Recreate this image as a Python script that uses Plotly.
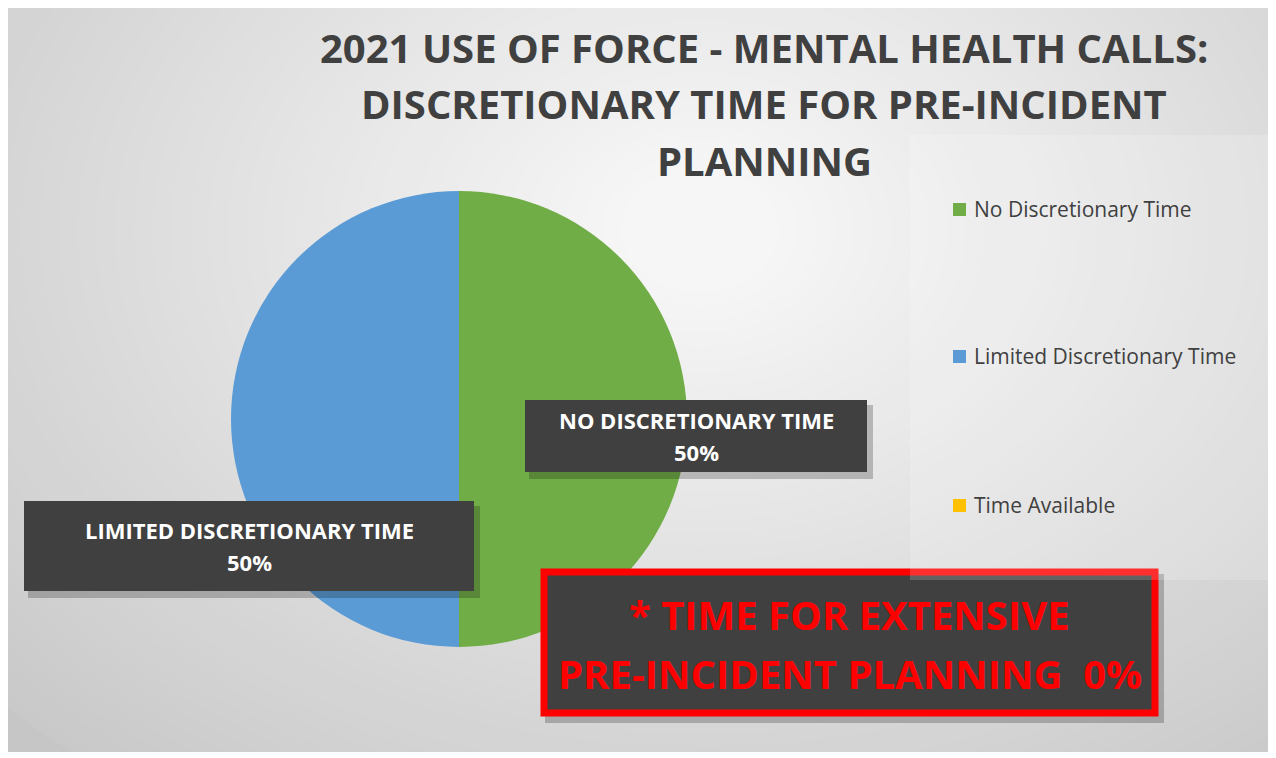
import plotly.graph_objects as go

# ── Data ─────────────────────────────────────────────────────────────────────
LABELS = ["No Discretionary Time", "Limited Discretionary Time", "Time Available"]
VALUES = [50, 50, 0]
COLORS = ["#70AD47", "#5B9BD5", "#FFC000"]
TITLE_LINES = ["2021 USE OF FORCE - MENTAL HEALTH CALLS:",
               "DISCRETIONARY TIME FOR PRE-INCIDENT",
               "PLANNING"]
NOTE_LINES = ["* TIME FOR EXTENSIVE", "PRE-INCIDENT PLANNING  0%"]

OX, OY = 8, 8          # page body margin offset
W, H = 1276 - OX, 758 - OY
FONT = "Open Sans"
C_TEXT = "#404040"
C_LABEL_BG = "#404040"


def px(x):
    return (x - OX) / W


def py(y):
    return 1 - (y - OY) / H


def rect(x0, y0, x1, y1, **kw):
    return dict(type="rect", xref="paper", yref="paper",
                x0=px(x0), x1=px(x1), y0=py(y1), y1=py(y0), **kw)


def text(t, x, y, size, color, bold=False, anchor="center"):
    return dict(text=t, xref="paper", yref="paper", x=px(x), y=py(y),
                xanchor=anchor, yanchor="middle", showarrow=False,
                font=dict(family=FONT, size=size, color=color,
                          weight="bold" if bold else "normal"))


fig = go.Figure()

# ── Pie ──────────────────────────────────────────────────────────────────────
cx, cy, r = 459, 419, 228
fig.add_trace(go.Pie(
    labels=LABELS,
    values=VALUES,
    marker=dict(colors=COLORS, line=dict(width=0)),
    sort=False,
    direction="clockwise",
    rotation=0,
    textinfo="none",
    hoverinfo="label+percent",
    showlegend=False,
    domain=dict(x=[px(cx - r), px(cx + r)], y=[py(cy + r), py(cy - r)]),
))

# ── Background (chart area with soft radial shading) ─────────────────────────
shapes = [rect(6, 8, 1290, 752, layer="below", fillcolor="#c6c6c6", line=dict(width=0))]
gx, gy = 700, 230
n = 48
for i in range(n):
    f = 1 - i / n
    rx, ry = 60 + 900 * f, 50 + 640 * f
    g = int(round(0xc8 + (0xf6 - 0xc8) * (i + 1) / n))
    shapes.append(dict(type="circle", xref="paper", yref="paper", layer="below",
                       x0=px(gx - rx), x1=px(gx + rx),
                       y0=py(gy + ry), y1=py(gy - ry),
                       fillcolor=f"rgb({g},{g},{g})", line=dict(width=0)))
# mask outside the chart frame back to white
shapes.append(rect(-10, -10, 6, 800, layer="below", fillcolor="white", line=dict(width=0)))
shapes.append(rect(-10, -10, 1300, 8, layer="below", fillcolor="white", line=dict(width=0)))
shapes.append(rect(-10, 752, 1300, 800, layer="below", fillcolor="white", line=dict(width=0)))

# data label boxes with shadow
BOXES = [(525, 400, 867, 472), (24, 501, 474, 591)]
NOTE_BOX = (541, 569, 1158, 716)
for (x0, y0, x1, y1) in BOXES + [NOTE_BOX]:
    shapes.append(rect(x0 + 4, y0 + 5, x1 + 6, y1 + 7,
                       fillcolor="rgba(0,0,0,0.22)", line=dict(width=0)))
for (x0, y0, x1, y1) in BOXES:
    shapes.append(rect(x0, y0, x1, y1, fillcolor=C_LABEL_BG, line=dict(width=0)))
x0, y0, x1, y1 = NOTE_BOX
shapes.append(rect(x0 + 3, y0 + 3, x1 - 3, y1 - 3, fillcolor=C_LABEL_BG,
                   line=dict(color="#FF0000", width=7)))

# legend panel (slightly lighter, overlaps the top of the note box)
shapes.append(rect(910, 135, 1290, 580,
                   fillcolor="rgba(255,255,255,0.18)", line=dict(width=0)))

# legend squares
LEG_Y = [209, 356, 505]
for col, ly in zip(COLORS, LEG_Y):
    shapes.append(rect(953, ly - 6, 966, ly + 7, fillcolor=col, line=dict(width=0)))

annotations = []

# title, one annotation per line
for t, ty in zip(TITLE_LINES, [47, 103, 160]):
    annotations.append(text(t, 764, ty, 40, C_TEXT, bold=True))

# legend texts
for lab, ly in zip(LABELS, LEG_Y):
    annotations.append(text(lab, 972, ly, 21, C_TEXT, anchor="left"))

# data labels
for lab, val, (x0, y0, x1, y1) in zip(LABELS[:2], VALUES[:2], BOXES):
    pct = round(100 * val / sum(VALUES))
    mx, my = (x0 + x1) / 2, (y0 + y1) / 2
    annotations.append(text(lab.upper(), mx, my - 16, 22, "white", bold=True))
    annotations.append(text(f"{pct}%", mx, my + 16, 22, "white", bold=True))

# note box text
mx = (NOTE_BOX[0] + NOTE_BOX[2]) / 2
for t, ty in zip(NOTE_LINES, [614, 673]):
    annotations.append(text(t, mx, ty, 40, "#FF0000", bold=True))

fig.update_layout(
    width=W, height=H,
    margin=dict(l=0, r=0, t=0, b=0),
    paper_bgcolor="white",
    plot_bgcolor="white",
    shapes=shapes,
    annotations=annotations,
    showlegend=False,
)

fig.write_html("out.html")
